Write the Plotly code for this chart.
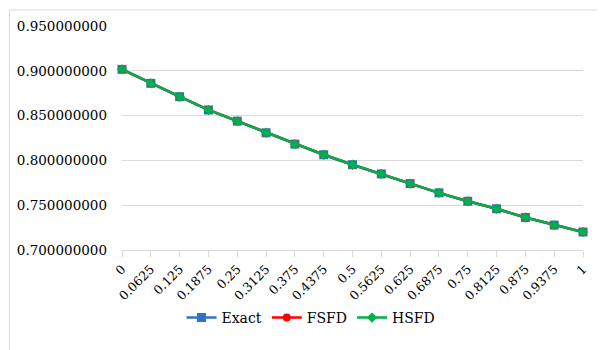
import plotly.graph_objects as go

x_labels = ["0", "0.0625", "0.125", "0.1875", "0.25", "0.3125", "0.375", "0.4375",
            "0.5", "0.5625", "0.625", "0.6875", "0.75", "0.8125", "0.875", "0.9375", "1"]
exact = [0.9016, 0.8860, 0.8711, 0.8563, 0.8438, 0.8308, 0.8182, 0.8063, 0.7952,
         0.7849, 0.7741, 0.7638, 0.7544, 0.7460, 0.7363, 0.7278, 0.7201]
fsfd = [0.9016, 0.8860, 0.8711, 0.8563, 0.8438, 0.8308, 0.8182, 0.8063, 0.7952,
        0.7849, 0.7741, 0.7638, 0.7544, 0.7460, 0.7363, 0.7278, 0.7201]
hsfd = [0.9016, 0.8860, 0.8711, 0.8563, 0.8438, 0.8308, 0.8182, 0.8063, 0.7952,
        0.7849, 0.7741, 0.7638, 0.7544, 0.7460, 0.7363, 0.7278, 0.7201]

FONT = "DejaVu Serif"

fig = go.Figure()
fig.add_trace(go.Scatter(x=x_labels, y=exact, name="Exact", mode="lines+markers",
                         line=dict(color="#2E75C9", width=2.5),
                         marker=dict(symbol="square", size=9, color="#2E75C9"),
                         cliponaxis=False))
fig.add_trace(go.Scatter(x=x_labels, y=fsfd, name="FSFD", mode="lines+markers",
                         line=dict(color="#FF0000", width=2.5),
                         marker=dict(symbol="circle", size=8, color="#FF0000"),
                         cliponaxis=False))
fig.add_trace(go.Scatter(x=x_labels, y=hsfd, name="HSFD", mode="lines+markers",
                         line=dict(color="#00B050", width=2.5),
                         marker=dict(symbol="diamond", size=8, color="#00B050"),
                         cliponaxis=False))

# page offset of the figure inside the browser window
OFF = 8
W, H = 605, 350
# target plot box in page pixels
PX0, PX1, PY0, PY1 = 122, 583, 26, 250
L, T = PX0 - OFF, PY0 - OFF
R, B = W - (PX1 - OFF), H - (PY1 - OFF)
pw, ph = W - L - R, H - T - B


def px(x):
    return (x - OFF - L) / pw


def py(y):
    return (H - B - (y - OFF)) / ph


fig.update_layout(
    width=W, height=H,
    margin=dict(l=L, r=R, t=T, b=B, pad=0, autoexpand=False),
    paper_bgcolor="white", plot_bgcolor="white",
    font=dict(family=FONT, size=13, color="#000000"),
    showlegend=True,
    legend=dict(orientation="h", x=px(311), xanchor="center",
                y=py(318), yanchor="middle",
                font=dict(family=FONT, size=14), itemwidth=30,
                bgcolor="rgba(0,0,0,0)"),
    xaxis=dict(type="category", range=[0, len(x_labels) - 1], automargin=False,
               showgrid=False, showline=True, linecolor="#d9d9d9", linewidth=1,
               ticks="outside", ticklen=6, tickcolor="#d9d9d9",
               tickangle=-45, tickfont=dict(family=FONT, size=12.5),
               zeroline=False),
    yaxis=dict(range=[0.70, 0.95], dtick=0.05, tick0=0.70, tickformat=".9f",
               automargin=False,
               showgrid=True, gridcolor="#d9d9d9", gridwidth=1,
               showline=False, zeroline=False, ticks="",
               ticklabelstandoff=14,
               tickfont=dict(family=FONT, size=13.5)),
    shapes=[dict(type="rect", xref="paper", yref="paper",
                 x0=px(9.5), x1=1.5, y0=-1.0, y1=py(10),
                 line=dict(color="#d9d9d9", width=1), fillcolor="rgba(0,0,0,0)",
                 layer="below")],
)

fig.write_html("out.html")
